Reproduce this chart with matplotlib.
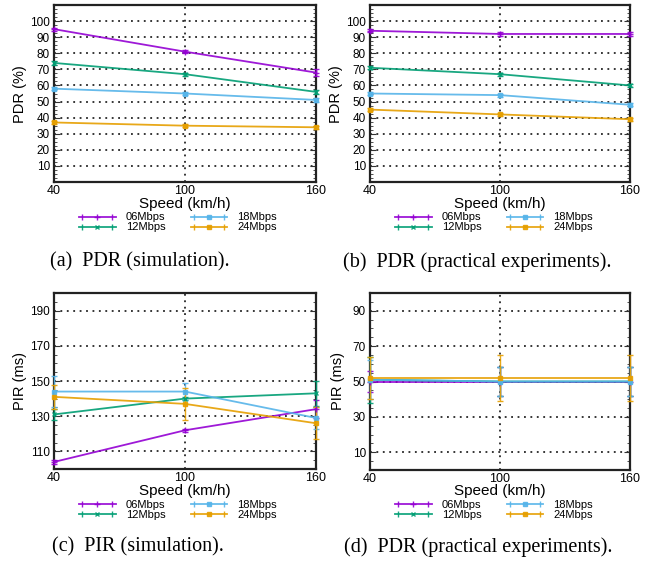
import numpy as np
import matplotlib
matplotlib.use("Agg")
import matplotlib.pyplot as plt
from matplotlib.lines import Line2D
from matplotlib.legend_handler import HandlerLine2D, HandlerTuple
from matplotlib.ticker import MultipleLocator

plt.rcParams['font.family'] = ['Liberation Sans', 'DejaVu Sans']

speed = [40, 100, 160]
rates = ['06Mbps', '12Mbps', '18Mbps', '24Mbps']
colors = ['#9400D3', '#009E73', '#56B4E9', '#E69F00']
markers = ['+', 'x', 's', 's']
msizes = [4, 3.5, 2.5, 3.5]

# (a) PDR simulation
pdr_sim = [[95, 81, 68], [74, 67, 56], [58, 55, 51], [37, 35, 34]]
pdr_sim_err = [[1, 1, 2], [1, 1, 1], [1, 1, 1], [1, 1, 1]]
# (b) PDR practical
pdr_exp = [[94, 92, 92], [71, 67, 60], [55, 54, 48], [45, 42, 39]]
pdr_exp_err = [[1, 1, 1], [1, 1, 1], [1, 1, 1], [1, 1, 1]]
# (c) PIR simulation
pir_sim = [[104, 122, 134], [131, 140, 143], [144, 144, 129], [141, 137, 126]]
pir_sim_err = [[1, 1, 5], [3, 1, 7], [9, 5, 6], [7, 9, 9]]
# (d) PIR practical
pir_exp = [[50, 50, 50], [51, 50, 50], [51, 50, 50], [52, 52, 52]]
pir_exp_err = [[6, 8, 8], [13, 8, 8], [11, 8, 8], [12, 13, 13]]

W, H = 657, 563
fig = plt.figure(figsize=(W / 100, H / 100), dpi=100)


def px_axes(l, t, r, b):
    return fig.add_axes([l / W, 1 - b / H, (r - l) / W, (b - t) / H])


panels = [
    dict(box=(54, 5, 316, 182), data=pdr_sim, err=pdr_sim_err, ylim=(0, 110),
         yticks=range(10, 101, 10), minor=2.5, ylabel='PDR (%)', ylab=(20, 94),
         xlab=(185, 204), leg=(178, 222.5), cap=(140, 262),
         caption='(a)  PDR (simulation).'),
    dict(box=(370, 5, 630, 182), data=pdr_exp, err=pdr_exp_err, ylim=(0, 110),
         yticks=range(10, 101, 10), minor=2.5, ylabel='PDR (%)', ylab=(336, 94),
         xlab=(500, 204), leg=(494, 222.5), cap=(477, 262),
         caption='(b)  PDR (practical experiments).'),
    dict(box=(54, 293, 316, 469), data=pir_sim, err=pir_sim_err, ylim=(100, 200),
         yticks=range(110, 191, 20), minor=5, ylabel='PIR (ms)', ylab=(20, 381),
         xlab=(185, 491), leg=(178, 509.5), cap=(138, 547),
         caption='(c)  PIR (simulation).'),
    dict(box=(370, 293, 630, 470), data=pir_exp, err=pir_exp_err, ylim=(0, 100),
         yticks=range(10, 91, 20), minor=5, ylabel='PIR (ms)', ylab=(338, 381),
         xlab=(500, 491), leg=(494, 509.5), cap=(478, 547),
         caption='(d)  PDR (practical experiments).'),
]

for p in panels:
    ax = px_axes(*p['box'])
    for vals, errs, c, m, ms in zip(p['data'], p['err'], colors, markers, msizes):
        ax.errorbar(speed, vals, yerr=errs, color=c, marker=m, ms=ms, mew=1,
                    lw=1.3, elinewidth=1.0, capsize=2, capthick=1.0, alpha=0.9,
                    clip_on=False, zorder=3)
    ax.set_xlim(40, 160)
    ax.set_ylim(*p['ylim'])
    ax.set_xticks(speed)
    ax.set_yticks(list(p['yticks']))
    ax.yaxis.set_minor_locator(MultipleLocator(p['minor']))
    ax.grid(True, which='major', color='black', linestyle=(0, (1.2, 3)), lw=1.1)
    ax.tick_params(axis='both', which='both', direction='in', top=False, right=True,
                   colors='#333333')
    ax.tick_params(axis='x', length=0, labelsize=9, pad=2, labelcolor='black')
    ax.tick_params(axis='y', which='major', length=4, labelsize=8.5, pad=3,
                   labelcolor='black')
    ax.tick_params(axis='y', which='minor', length=2)
    for s in ax.spines.values():
        s.set_linewidth(1.6)
        s.set_color('#222222')

    fig.text(p['ylab'][0] / W, 1 - p['ylab'][1] / H, p['ylabel'], rotation=90,
             fontsize=10.5, ha='center', va='center')
    fig.text(p['xlab'][0] / W, 1 - p['xlab'][1] / H, 'Speed (km/h)',
             fontsize=11, ha='center', va='center')

    handles = []
    hmap = {}
    for c, m, ms in zip(colors, markers, msizes):
        ln = Line2D([], [], color=c, marker=m, ms=ms, mew=1, lw=1.3, alpha=0.9)
        capl = Line2D([], [], color=c, marker='|', ms=4, mew=1, lw=0, alpha=0.9)
        hmap[capl] = HandlerLine2D(numpoints=2)
        handles.append((ln, capl))
    hmap[tuple] = HandlerTuple(ndivide=1)
    fig.legend(handles, rates, handler_map=hmap, ncol=2, frameon=False,
               fontsize=8, loc='center',
               bbox_to_anchor=(p['leg'][0] / W, 1 - p['leg'][1] / H),
               handlelength=3.3, handletextpad=0.9, columnspacing=2.3,
               labelspacing=0.0, borderpad=0, borderaxespad=0, markerfirst=True)

    fig.text(p['cap'][0] / W, 1 - p['cap'][1] / H, p['caption'],
             family=['Liberation Serif', 'DejaVu Serif'], fontsize=14.5,
             ha='center', va='center')

fig.savefig('out.png', dpi=100)
